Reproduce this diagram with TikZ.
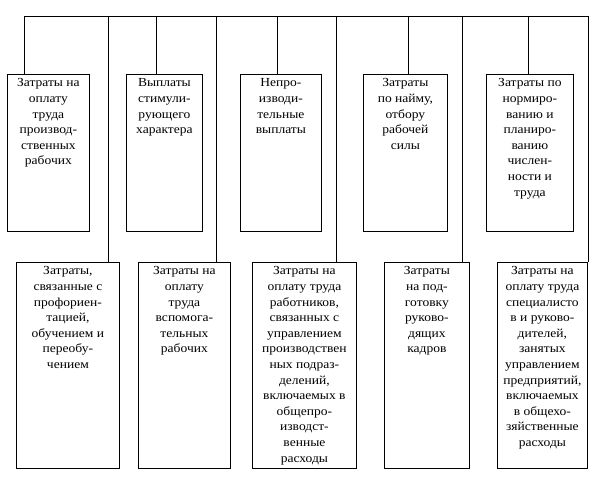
\documentclass[tikz,border=0pt]{standalone}
\usepackage{fontspec}
\setmainfont[FakeStretch=1.1]{Liberation Serif}
\newcommand\bxt[3]{\parbox[t][#2][t]{#1}{\centering\fontsize{12.3}{15.6}\selectfont\rule{0pt}{12.5pt}#3}}
\tikzset{
  box/.style={draw, line width=0.8pt, inner sep=0pt, anchor=north west},
  conn/.style={line width=0.8pt},
}
\begin{document}
\begin{tikzpicture}[x=1pt,y=-1pt]
\useasboundingbox (0,0) rectangle (600,483);
% top row
\node[box] (a1) at (7,74)   {\bxt{82pt}{157pt}{Затраты на\\оплату\\труда\\производ-\\ственных\\рабочих}};
\node[box] (a2) at (126,74) {\bxt{76pt}{157pt}{Выплаты\\стимули-\\рующего\\характера}};
\node[box] (a3) at (240,74) {\bxt{81pt}{157pt}{Непро-\\изводи-\\тельные\\выплаты}};
\node[box] (a4) at (363,74) {\bxt{84pt}{157pt}{Затраты\\по найму,\\отбору\\рабочей\\силы}};
\node[box] (a5) at (486,74) {\bxt{87pt}{157pt}{Затраты по\\нормиро-\\ванию и\\планиро-\\ванию\\числен-\\ности и\\труда}};
% bottom row
\node[box] (b1) at (16,262)  {\bxt{103pt}{206pt}{Затраты,\\связанные с\\профориен-\\тацией,\\обучением и\\переобу-\\чением}};
\node[box] (b2) at (138,262) {\bxt{92pt}{206pt}{Затраты на\\оплату\\труда\\вспомога-\\тельных\\рабочих}};
\node[box] (b3) at (252,262) {\bxt{104pt}{206pt}{Затраты на\\оплату труда\\работников,\\связанных с\\управлением\\производствен\\ных подраз-\\делений,\\включаемых в\\общепро-\\изводст-\\венные\\расходы}};
\node[box] (b4) at (384,262) {\bxt{85pt}{206pt}{Затраты\\на под-\\готовку\\руково-\\дящих\\кадров}};
\node[box] (b5) at (497,262) {\bxt{90pt}{206pt}{Затраты на\\оплату труда\\специалисто\\в и руково-\\дителей,\\занятых\\управлением\\предприятий,\\включаемых\\в общехо-\\зяйственные\\расходы}};
% bus
\coordinate (ta1) at (24,16);
\coordinate (tb1) at (108,16);
\coordinate (ta2) at (156,16);
\coordinate (tb2) at (216,16);
\coordinate (ta3) at (277,16);
\coordinate (tb3) at (336,16);
\coordinate (ta4) at (408,16);
\coordinate (tb4) at (462,16);
\coordinate (ta5) at (528,16);
\coordinate (tb5) at (588,16);
\draw[conn] (ta1) -- (tb5);
\foreach \n in {a1,b1,a2,b2,a3,b3,a4,b4,a5,b5}
  \draw[conn] (t\n) -- (t\n |- \n.north);
\end{tikzpicture}
\end{document}
